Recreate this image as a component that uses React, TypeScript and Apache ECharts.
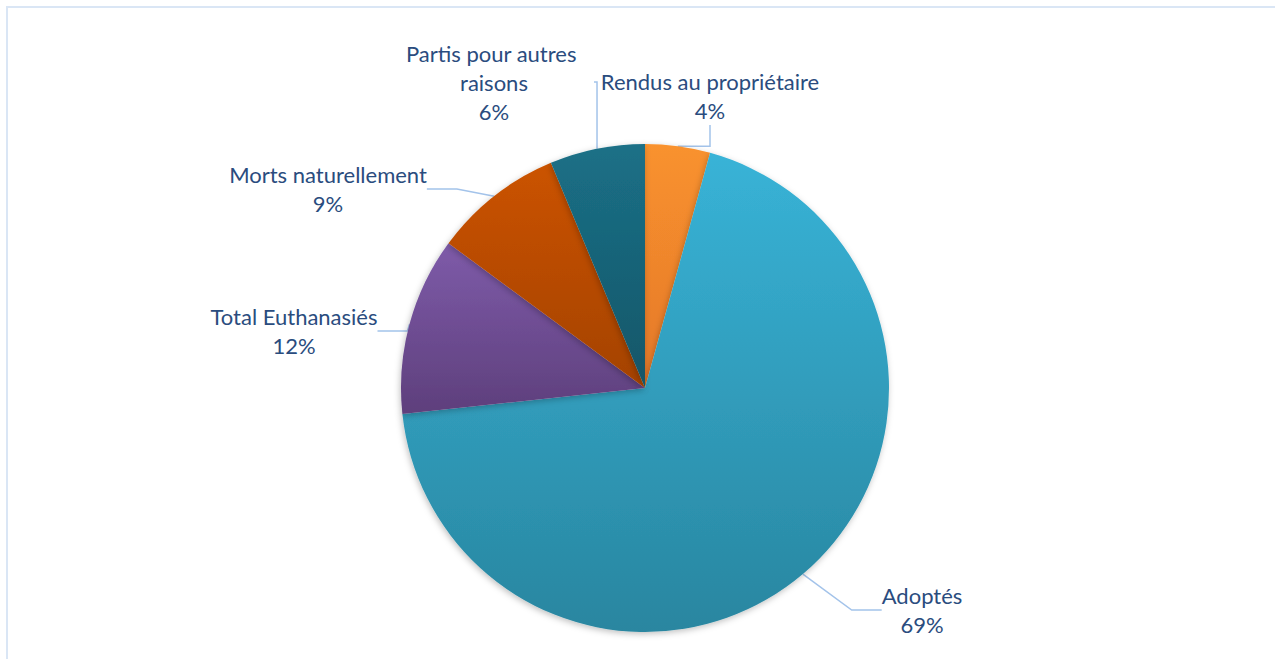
import React, { useEffect, useRef } from "react";
import * as echarts from "echarts";

const categories = [
  "Rendus au propriétaire",
  "Adoptés",
  "Total Euthanasiés",
  "Morts naturellement",
  "Partis pour autres raisons",
];
const values = [4.3, 69.0, 11.8, 8.6, 6.3];
const colorsTop = ["#F9922E", "#38B3D7", "#7E5BA9", "#CB5300", "#1B7087"];
const colorsBottom = ["#E4782A", "#2986A0", "#5E3F7C", "#A44200", "#145668"];
const labelPos = [
  [710, 96],
  [922, 610],
  [294, 331],
  [328, 189],
  [494, 82],
];

export default function App() {
  const ref = useRef<HTMLDivElement>(null);
  useEffect(() => {
    const chart = echarts.init(ref.current!, null, { renderer: "svg" });
    chart.setOption({
      animation: false,
      backgroundColor: "#ffffff",
      graphic: [
        {
          type: "rect",
          shape: { x: 7, y: 7, width: 1300, height: 700 },
          style: { fill: "none", stroke: "#DAE6F5", lineWidth: 2 },
          silent: true,
        },
      ],
      series: [
        {
          type: "pie",
          center: [645, 388],
          radius: 244,
          startAngle: 90,
          clockwise: true,
          percentPrecision: 0,
          data: categories.map((name, i) => ({
            name,
            value: values[i],
            itemStyle: {
              color: new echarts.graphic.LinearGradient(0, 0, 0, 1, [
                { offset: 0, color: colorsTop[i] },
                { offset: 1, color: colorsBottom[i] },
              ]),
            },
            label:
              i === 4 ? { width: 200, overflow: "break" } : undefined,
          })),
          itemStyle: {
            borderWidth: 0,
            shadowBlur: 6,
            shadowColor: "rgba(0,0,0,0.25)",
            shadowOffsetX: -1,
            shadowOffsetY: 2,
          },
          label: {
            show: true,
            formatter: "{b}\n{d}%",
            fontFamily: "Lato",
            fontSize: 22,
            lineHeight: 29,
            color: "#2A4C7E",
            align: "center",
          },
          labelLine: {
            show: true,
            lineStyle: { color: "#A3C3EA", width: 1.5 },
          },
          labelLayout: (params: any) => {
            const p = labelPos[params.dataIndex];
            return { x: p[0], y: p[1], align: "center", verticalAlign: "middle" };
          },
        },
      ],
    });
    return () => chart.dispose();
  }, []);
  return (
    <div
      ref={ref}
      style={{ position: "fixed", left: 0, top: 0, width: 1275, height: 659 }}
    />
  );
}
